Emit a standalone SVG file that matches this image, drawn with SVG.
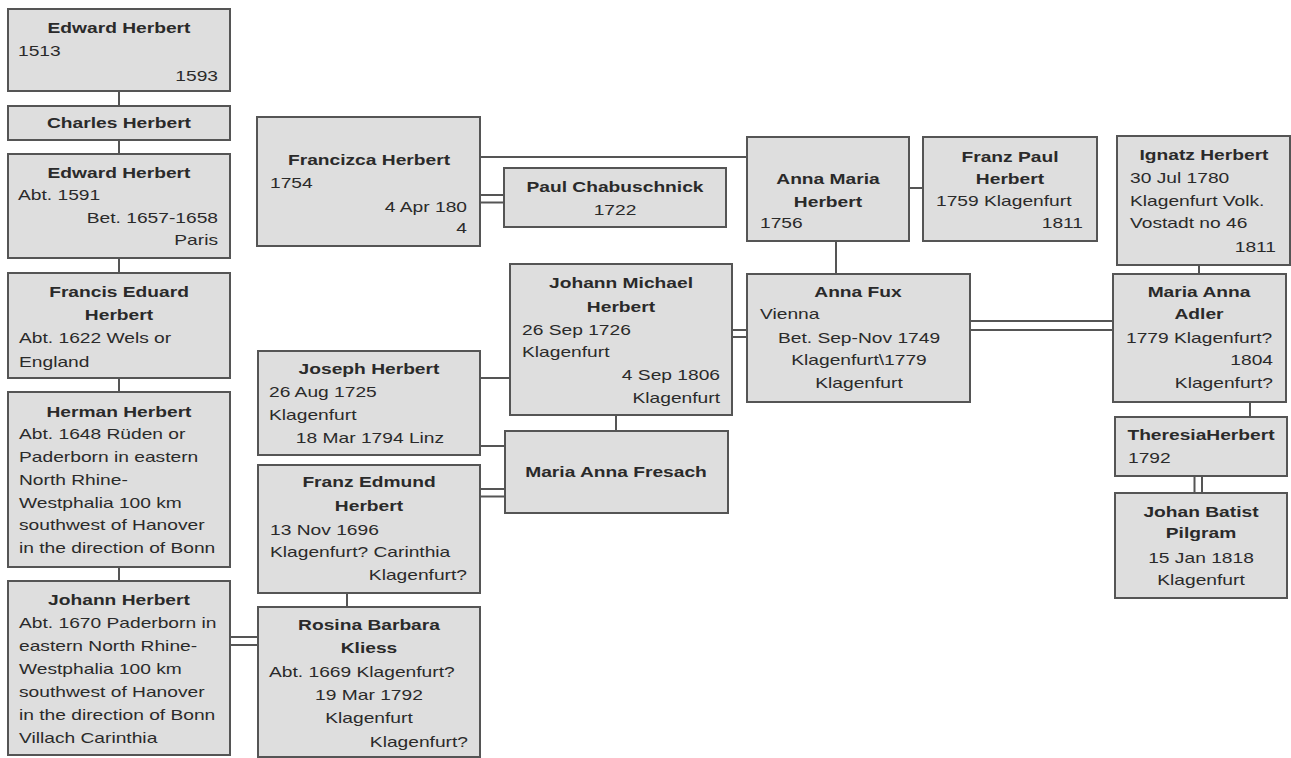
<svg xmlns="http://www.w3.org/2000/svg" width="1291" height="758" viewBox="0 0 1291 758">
<style>
.box{fill:#dedede;stroke:#555;stroke-width:2}
.ln{stroke:#555;stroke-width:2;fill:none}
text{font-family:"Liberation Sans",Arial,sans-serif;font-size:15px;fill:#2a2a2a}
.b{font-weight:bold;text-anchor:middle}
.c{text-anchor:middle}
.r{text-anchor:end}
</style>
<rect width="1291" height="758" fill="#fff"/>
<g id="connectors">
<line class="ln" x1="119" y1="91" x2="119" y2="106"/>
<line class="ln" x1="119" y1="140" x2="119" y2="154"/>
<line class="ln" x1="119" y1="258" x2="119" y2="273"/>
<line class="ln" x1="119" y1="378" x2="119" y2="392"/>
<line class="ln" x1="119" y1="567" x2="119" y2="581"/>
<line class="ln" x1="230" y1="637" x2="258" y2="637"/>
<line class="ln" x1="230" y1="645" x2="258" y2="645"/>
<line class="ln" x1="347" y1="593" x2="347" y2="607"/>
<line class="ln" x1="480" y1="489" x2="505" y2="489"/>
<line class="ln" x1="480" y1="496.5" x2="505" y2="496.5"/>
<line class="ln" x1="480" y1="378" x2="510" y2="378"/>
<line class="ln" x1="480" y1="446" x2="505" y2="446"/>
<line class="ln" x1="616" y1="415" x2="616" y2="431"/>
<line class="ln" x1="480" y1="157" x2="747" y2="157"/>
<line class="ln" x1="480" y1="195" x2="504" y2="195"/>
<line class="ln" x1="480" y1="202.5" x2="504" y2="202.5"/>
<line class="ln" x1="732" y1="330" x2="747" y2="330"/>
<line class="ln" x1="732" y1="337" x2="747" y2="337"/>
<line class="ln" x1="909" y1="188" x2="923" y2="188"/>
<line class="ln" x1="836" y1="241" x2="836" y2="274"/>
<line class="ln" x1="970" y1="321" x2="1113" y2="321"/>
<line class="ln" x1="970" y1="330" x2="1113" y2="330"/>
<line class="ln" x1="1199" y1="265" x2="1199" y2="274"/>
<line class="ln" x1="1250" y1="402" x2="1250" y2="417"/>
<line class="ln" x1="1194.5" y1="476" x2="1194.5" y2="493"/>
<line class="ln" x1="1202" y1="476" x2="1202" y2="493"/>
</g>
<g id="edward1">
<rect class="box" x="8" y="9" width="222" height="82"/>
<text class="b" transform="matrix(1.28 0 0 1 119 33)">Edward Herbert</text>
<text transform="matrix(1.28 0 0 1 18 56)">1513</text>
<text class="r" transform="matrix(1.28 0 0 1 218 81)">1593</text>
</g>
<g id="charles">
<rect class="box" x="8" y="106" width="222" height="34"/>
<text class="b" transform="matrix(1.28 0 0 1 119 128)">Charles Herbert</text>
</g>
<g id="edward2">
<rect class="box" x="8" y="154" width="222" height="104"/>
<text class="b" transform="matrix(1.28 0 0 1 119 178)">Edward Herbert</text>
<text transform="matrix(1.28 0 0 1 18 200)">Abt. 1591</text>
<text class="r" transform="matrix(1.28 0 0 1 218 223)">Bet. 1657-1658</text>
<text class="r" transform="matrix(1.28 0 0 1 218 245)">Paris</text>
</g>
<g id="francis">
<rect class="box" x="8" y="273" width="222" height="105"/>
<text class="b" transform="matrix(1.28 0 0 1 119 297)">Francis Eduard</text>
<text class="b" transform="matrix(1.28 0 0 1 119 320)">Herbert</text>
<text transform="matrix(1.28 0 0 1 19 343)">Abt. 1622 Wels or</text>
<text transform="matrix(1.28 0 0 1 19 367)">England</text>
</g>
<g id="herman">
<rect class="box" x="8" y="392" width="222" height="175"/>
<text class="b" transform="matrix(1.28 0 0 1 119 417)">Herman Herbert</text>
<text transform="matrix(1.28 0 0 1 19 439)">Abt. 1648 Rüden or</text>
<text transform="matrix(1.28 0 0 1 19 462)">Paderborn in eastern</text>
<text transform="matrix(1.28 0 0 1 19 485)">North Rhine-</text>
<text transform="matrix(1.28 0 0 1 19 508)">Westphalia 100 km</text>
<text transform="matrix(1.28 0 0 1 19 530)">southwest of Hanover</text>
<text transform="matrix(1.28 0 0 1 19 553)">in the direction of Bonn</text>
</g>
<g id="johann">
<rect class="box" x="8" y="581" width="222" height="174"/>
<text class="b" transform="matrix(1.28 0 0 1 119 605)">Johann Herbert</text>
<text transform="matrix(1.28 0 0 1 19 628)">Abt. 1670 Paderborn in</text>
<text transform="matrix(1.28 0 0 1 19 651)">eastern North Rhine-</text>
<text transform="matrix(1.28 0 0 1 19 674)">Westphalia 100 km</text>
<text transform="matrix(1.28 0 0 1 19 697)">southwest of Hanover</text>
<text transform="matrix(1.28 0 0 1 19 720)">in the direction of Bonn</text>
<text transform="matrix(1.28 0 0 1 19 743)">Villach Carinthia</text>
</g>
<g id="rosina">
<rect class="box" x="258" y="607" width="222" height="150"/>
<text class="b" transform="matrix(1.28 0 0 1 369 630)">Rosina Barbara</text>
<text class="b" transform="matrix(1.28 0 0 1 369 653)">Kliess</text>
<text transform="matrix(1.28 0 0 1 269 677)">Abt. 1669 Klagenfurt?</text>
<text class="c" transform="matrix(1.28 0 0 1 369 700)">19 Mar 1792</text>
<text class="c" transform="matrix(1.28 0 0 1 369 723)">Klagenfurt</text>
<text class="r" transform="matrix(1.28 0 0 1 468 747)">Klagenfurt?</text>
</g>
<g id="franzedmund">
<rect class="box" x="258" y="465" width="222" height="128"/>
<text class="b" transform="matrix(1.28 0 0 1 369 487)">Franz Edmund</text>
<text class="b" transform="matrix(1.28 0 0 1 369 511)">Herbert</text>
<text transform="matrix(1.28 0 0 1 270 535)">13 Nov 1696</text>
<text transform="matrix(1.28 0 0 1 270 557)">Klagenfurt? Carinthia</text>
<text class="r" transform="matrix(1.28 0 0 1 467 580)">Klagenfurt?</text>
</g>
<g id="joseph">
<rect class="box" x="258" y="351" width="222" height="104"/>
<text class="b" transform="matrix(1.28 0 0 1 369 374)">Joseph Herbert</text>
<text transform="matrix(1.28 0 0 1 269 397)">26 Aug 1725</text>
<text transform="matrix(1.28 0 0 1 269 420)">Klagenfurt</text>
<text class="c" transform="matrix(1.28 0 0 1 370 443)">18 Mar 1794 Linz</text>
</g>
<g id="francizca">
<rect class="box" x="257" y="117" width="223" height="129"/>
<text class="b" transform="matrix(1.28 0 0 1 369 165)">Francizca Herbert</text>
<text transform="matrix(1.28 0 0 1 270 188)">1754</text>
<text class="r" transform="matrix(1.28 0 0 1 467 212)">4 Apr 180</text>
<text class="r" transform="matrix(1.28 0 0 1 467 233)">4</text>
</g>
<g id="paul">
<rect class="box" x="504" y="168" width="222" height="59"/>
<text class="b" transform="matrix(1.28 0 0 1 615 192)">Paul Chabuschnick</text>
<text class="c" transform="matrix(1.28 0 0 1 615 215)">1722</text>
</g>
<g id="johannmichael">
<rect class="box" x="510" y="264" width="222" height="151"/>
<text class="b" transform="matrix(1.28 0 0 1 621 288)">Johann Michael</text>
<text class="b" transform="matrix(1.28 0 0 1 621 312)">Herbert</text>
<text transform="matrix(1.28 0 0 1 522 335)">26 Sep 1726</text>
<text transform="matrix(1.28 0 0 1 522 357)">Klagenfurt</text>
<text class="r" transform="matrix(1.28 0 0 1 720 380)">4 Sep 1806</text>
<text class="r" transform="matrix(1.28 0 0 1 720 403)">Klagenfurt</text>
</g>
<g id="fresach">
<rect class="box" x="505" y="431" width="223" height="82"/>
<text class="b" transform="matrix(1.28 0 0 1 616 477)">Maria Anna Fresach</text>
</g>
<g id="annamaria">
<rect class="box" x="747" y="137" width="162" height="104"/>
<text class="b" transform="matrix(1.28 0 0 1 828 184)">Anna Maria</text>
<text class="b" transform="matrix(1.28 0 0 1 828 207)">Herbert</text>
<text transform="matrix(1.28 0 0 1 760 228)">1756</text>
</g>
<g id="franzpaul">
<rect class="box" x="923" y="137" width="174" height="104"/>
<text class="b" transform="matrix(1.28 0 0 1 1010 162)">Franz Paul</text>
<text class="b" transform="matrix(1.28 0 0 1 1010 184)">Herbert</text>
<text transform="matrix(1.28 0 0 1 936 206)">1759 Klagenfurt</text>
<text class="r" transform="matrix(1.28 0 0 1 1083 228)">1811</text>
</g>
<g id="annafux">
<rect class="box" x="747" y="274" width="223" height="128"/>
<text class="b" transform="matrix(1.28 0 0 1 858 297)">Anna Fux</text>
<text transform="matrix(1.28 0 0 1 760 319)">Vienna</text>
<text class="c" transform="matrix(1.28 0 0 1 859 343)">Bet. Sep-Nov 1749</text>
<text class="c" transform="matrix(1.28 0 0 1 859 365)">Klagenfurt\1779</text>
<text class="c" transform="matrix(1.28 0 0 1 859 388)">Klagenfurt</text>
</g>
<g id="ignatz">
<rect class="box" x="1117" y="136" width="173" height="129"/>
<text class="b" transform="matrix(1.28 0 0 1 1204 160)">Ignatz Herbert</text>
<text transform="matrix(1.28 0 0 1 1130 183)">30 Jul 1780</text>
<text transform="matrix(1.28 0 0 1 1130 206)">Klagenfurt Volk.</text>
<text transform="matrix(1.28 0 0 1 1130 228)">Vostadt no 46</text>
<text class="r" transform="matrix(1.28 0 0 1 1276 252)">1811</text>
</g>
<g id="adler">
<rect class="box" x="1113" y="274" width="173" height="128"/>
<text class="b" transform="matrix(1.28 0 0 1 1199 297)">Maria Anna</text>
<text class="b" transform="matrix(1.28 0 0 1 1199 319)">Adler</text>
<text transform="matrix(1.28 0 0 1 1126 343)">1779 Klagenfurt?</text>
<text class="r" transform="matrix(1.28 0 0 1 1273 365)">1804</text>
<text class="r" transform="matrix(1.28 0 0 1 1273 388)">Klagenfurt?</text>
</g>
<g id="theresia">
<rect class="box" x="1115" y="417" width="172" height="59"/>
<text class="b" transform="matrix(1.28 0 0 1 1201 440)">TheresiaHerbert</text>
<text transform="matrix(1.28 0 0 1 1128 463)">1792</text>
</g>
<g id="johanbatist">
<rect class="box" x="1115" y="493" width="172" height="105"/>
<text class="b" transform="matrix(1.28 0 0 1 1201 517)">Johan Batist</text>
<text class="b" transform="matrix(1.28 0 0 1 1201 538)">Pilgram</text>
<text class="c" transform="matrix(1.28 0 0 1 1201 563)">15 Jan 1818</text>
<text class="c" transform="matrix(1.28 0 0 1 1201 585)">Klagenfurt</text>
</g>
</svg>
